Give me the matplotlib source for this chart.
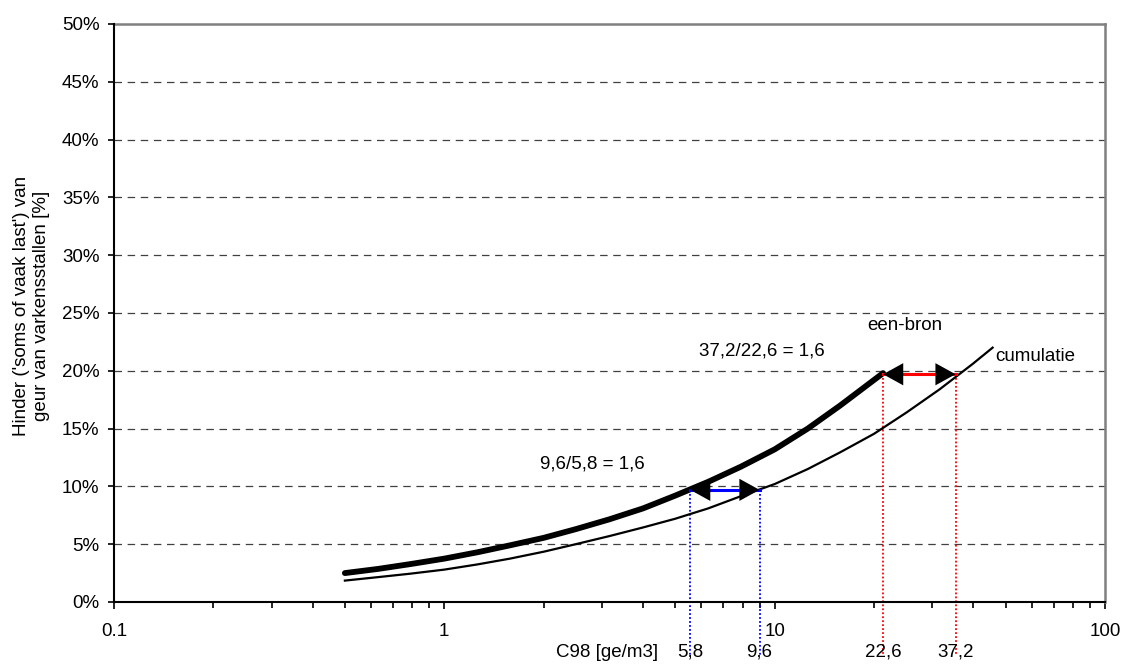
import matplotlib.pyplot as plt
import matplotlib.transforms as mtransforms
from matplotlib.ticker import FixedLocator, LogLocator, NullFormatter

plt.rcParams['font.family'] = ['Liberation Sans', 'DejaVu Sans']
plt.rcParams['font.size'] = 13.5

# een-bron (dikke lijn)
x_bron = [0.5, 0.63, 0.79, 1.0, 1.26, 1.58, 2.0, 2.5, 3.16, 4.0, 5.0, 6.3, 7.9, 10, 12.6, 15.8, 21.3]
y_bron = [2.5, 2.86, 3.28, 3.75, 4.3, 4.9, 5.55, 6.3, 7.15, 8.1, 9.2, 10.4, 11.7, 13.2, 15.0, 17.0, 19.8]

# cumulatie (dunne lijn)
x_cum = [0.5, 0.63, 0.79, 1.0, 1.26, 1.58, 2.0, 2.5, 3.16, 4.0, 5.0, 6.3, 7.9, 10, 12.6, 15.8,
         20, 25.1, 31.6, 39.8, 45.7]
y_cum = [1.85, 2.15, 2.45, 2.8, 3.25, 3.75, 4.35, 5.0, 5.7, 6.45, 7.2, 8.1, 9.15, 10.2, 11.5, 12.95,
         14.55, 16.4, 18.4, 20.6, 22.0]

# hulplijnen bij 10% en 20%
pijl_x = [(5.55, 9.0), (21.3, 35.3)]
pijl_y = [9.7, 19.7]
pijl_kleur = ['blue', 'red']
c98_labels = ['5,8', '9,6', '22,6', '37,2']
verhoudingen = ['9,6/5,8 = 1,6', '37,2/22,6 = 1,6']

yticks = [0, 5, 10, 15, 20, 25, 30, 35, 40, 45, 50]
xticks = [0.1, 1, 10, 100]
xticklabels = ['0.1', '1', '10', '100']

fig = plt.figure(figsize=(11.22, 6.64), dpi=100)
ax = fig.add_axes([0.1016, 0.0934, 0.8832, 0.8705])

ax.set_xscale('log')
ax.set_xlim(0.1, 100)
ax.set_ylim(0, 50)

# raster
for y in yticks[1:-1]:
    ax.axhline(y, color='#404040', lw=0.9, dashes=(6, 4.5), zorder=1)

ax.plot(x_bron, y_bron, color='black', lw=4.2, solid_capstyle='round', zorder=3)
ax.plot(x_cum, y_cum, color='black', lw=1.6, zorder=3)

# pijlen en stippellijnen
c98_x = []
for (xa, xb), yp, kl in zip(pijl_x, pijl_y, pijl_kleur):
    ax.plot([xa, xb], [yp, yp], color=kl, lw=2.2, zorder=4)
    for xs in (xa, xb):
        ax.plot([xs, xs], [yp, -4.6], color=kl, lw=1.3, linestyle=(0, (1, 1.2)),
                clip_on=False, zorder=2)
        c98_x.append(xs)
    ax.annotate('', xy=(xa, yp), xytext=(xb, yp),
                arrowprops=dict(arrowstyle='<|-|>,head_length=1.45,head_width=0.8',
                                mutation_scale=10, color='black', lw=0,
                                shrinkA=0, shrinkB=0), zorder=5)

ax.text(2.81, 11.9, verhoudingen[0], ha='center', va='center')
ax.text(9.13, 21.75, verhoudingen[1], ha='center', va='center')
ax.text(24.8, 23.9, 'een-bron', ha='center', va='center')
ax.text(46.4, 21.2, 'cumulatie', ha='left', va='center')

trans = mtransforms.blended_transform_factory(ax.transData, ax.transAxes)
for xs, lab in zip(c98_x, c98_labels):
    ax.text(xs, -0.087, lab, transform=trans, ha='center', va='center')
ax.text(4.45, -0.087, 'C98 [ge/m3]', transform=trans, ha='right', va='center')

fig.text(0.028, 0.54, "Hinder ('soms of vaak last') van\ngeur van varkensstallen [%]",
         rotation=90, ha='center', va='center', multialignment='center')

# assen
ax.set_yticks(yticks)
ax.set_yticklabels([f'{v}%' for v in yticks])
ax.xaxis.set_major_locator(FixedLocator(xticks))
ax.set_xticklabels(xticklabels)
ax.xaxis.set_minor_locator(LogLocator(base=10, subs=[2, 3, 4, 5, 6, 7, 8, 9]))
ax.xaxis.set_minor_formatter(NullFormatter())
ax.tick_params(axis='y', direction='out', length=4.5, width=1.2, pad=6)
ax.tick_params(axis='x', which='major', direction='out', length=5, width=1.2, pad=10)
ax.tick_params(axis='x', which='minor', direction='out', length=4, width=1.2)

for s in ['top', 'right']:
    ax.spines[s].set_color('#808080')
    ax.spines[s].set_linewidth(1.8)
for s in ['left', 'bottom']:
    ax.spines[s].set_color('black')
    ax.spines[s].set_linewidth(1.5)
    ax.spines[s].set_zorder(6)

plt.savefig('out.png', dpi=100)
